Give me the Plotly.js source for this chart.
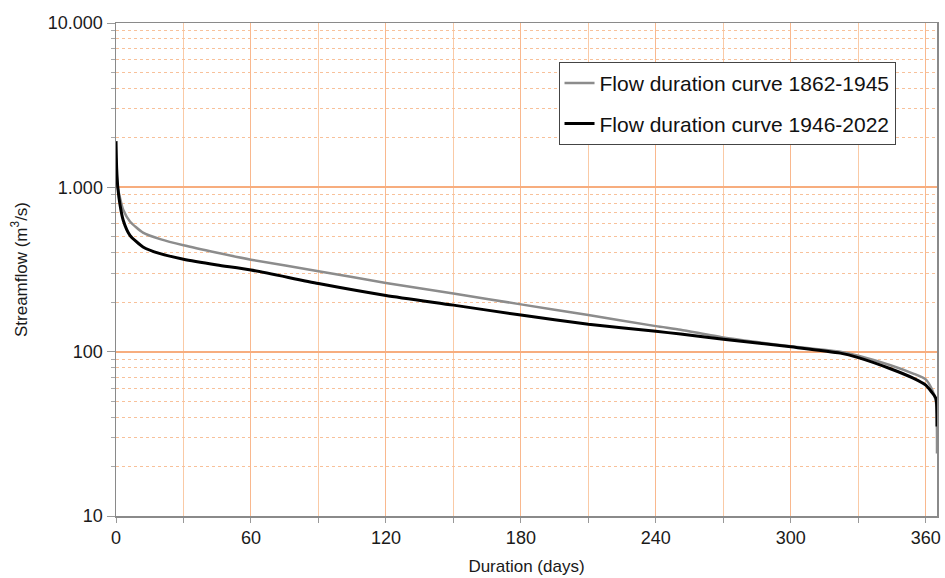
<!DOCTYPE html>
<html>
<head>
<meta charset="utf-8">
<script src="https://cdn.plot.ly/plotly-3.0.1.min.js"></script>
<style>html,body{margin:0;padding:0;background:#fff;}#chart{width:945px;height:578px;}</style>
</head>
<body>
<div id="chart"></div>
<script>
// Flow duration curve 1862-1945 (grey)
const daysOld = [0, 0.4, 0.9, 1.8, 3.2, 6.2, 12, 20, 30, 45, 60, 90, 120, 150, 180, 210, 240, 251, 270, 300, 322, 330, 344, 354.4, 360, 362.5, 364.5, 365];
const flowOld = [1500, 1150, 980, 860, 730, 620, 530, 482, 444, 400, 363, 309, 262, 226, 194, 167, 143, 136, 122, 108, 100, 94.5, 83, 73.6, 67.8, 60, 50, 24];
// Flow duration curve 1946-2022 (black)
const daysNew = [0, 0.3, 0.8, 1.8, 3.2, 6.2, 12, 19.6, 30, 45, 60, 90, 120, 150, 180, 210, 240, 251, 270, 300, 322, 330, 344, 354.4, 360, 362.5, 364.5, 365];
const flowNew = [1910, 1300, 1000, 780, 630, 510, 434, 395, 365, 337, 314, 260, 220, 192, 167, 147, 133, 128, 119, 107, 98, 92, 79, 69, 62.5, 57, 52, 35];
const seriesNames = ['Flow duration curve 1862-1945', 'Flow duration curve 1946-2022'];
const xTicks = [0, 60, 120, 180, 240, 300, 360];

const font = 'Liberation Sans, Arial, Helvetica, sans-serif';
const traces = [
  {x: daysOld, y: flowOld, name: seriesNames[0], mode: 'lines', legendgroup: 'a',
   line: {color: '#8c8c8c', width: 2.5, shape: 'spline', smoothing: 0.6}},
  {x: daysNew, y: flowNew, name: seriesNames[1], mode: 'lines', legendgroup: 'b',
   line: {color: '#000000', width: 3, shape: 'spline', smoothing: 0.6}}
];
const layout = {
  width: 945, height: 578,
  margin: {l: 116, r: 8, t: 23, b: 62},
  paper_bgcolor: '#fff', plot_bgcolor: '#fff',
  separators: ',.',
  font: {family: font, size: 17, color: '#1a1a1a'},
  showlegend: true,
  legend: {x: 0.539, y: 0.921, xanchor: 'left', yanchor: 'top',
    bgcolor: '#fff', bordercolor: '#444', borderwidth: 1,
    font: {family: font, size: 21, color: '#111'},
    traceorder: 'grouped', tracegroupgap: 10, itemwidth: 30,
    entrywidth: 362, entrywidthmode: 'pixels'},
  xaxis: {
    range: [0, 365], tickmode: 'array', tickvals: xTicks,
    ticks: 'outside', ticklen: 5, tickcolor: '#999',
    showline: true, linecolor: '#8a8a8a', linewidth: 1.5, mirror: true,
    showgrid: true, gridcolor: '#f9b88e', gridwidth: 1,
    zeroline: false,
    minor: {dtick: 30, tick0: 0, ticks: 'outside', ticklen: 5, tickcolor: '#999',
            showgrid: true, gridcolor: '#facaa6', gridwidth: 1},
    tickfont: {size: 18},
    title: {text: 'Duration (days)', font: {size: 17}, standoff: 13}
  },
  yaxis: {
    type: 'log', range: [1, 4], dtick: 1, tickformat: ',d',
    ticks: 'outside', ticklen: 8, tickcolor: '#999',
    showline: true, linecolor: '#8a8a8a', linewidth: 1.5, mirror: true,
    showgrid: true, gridcolor: '#f7ad7e', gridwidth: 2,
    zeroline: false,
    minor: {dtick: 'D1', ticks: 'outside', ticklen: 4, tickcolor: '#aaa',
            showgrid: true, gridcolor: '#f8c19a', griddash: '3px,3px', gridwidth: 1},
    tickfont: {size: 18},
    title: {text: 'Streamflow (m<sup>3</sup>/s)', font: {size: 17}, standoff: 16}
  }
};
Plotly.newPlot('chart', traces, layout, {displayModeBar: false, staticPlot: true});
</script>
</body>
</html>
